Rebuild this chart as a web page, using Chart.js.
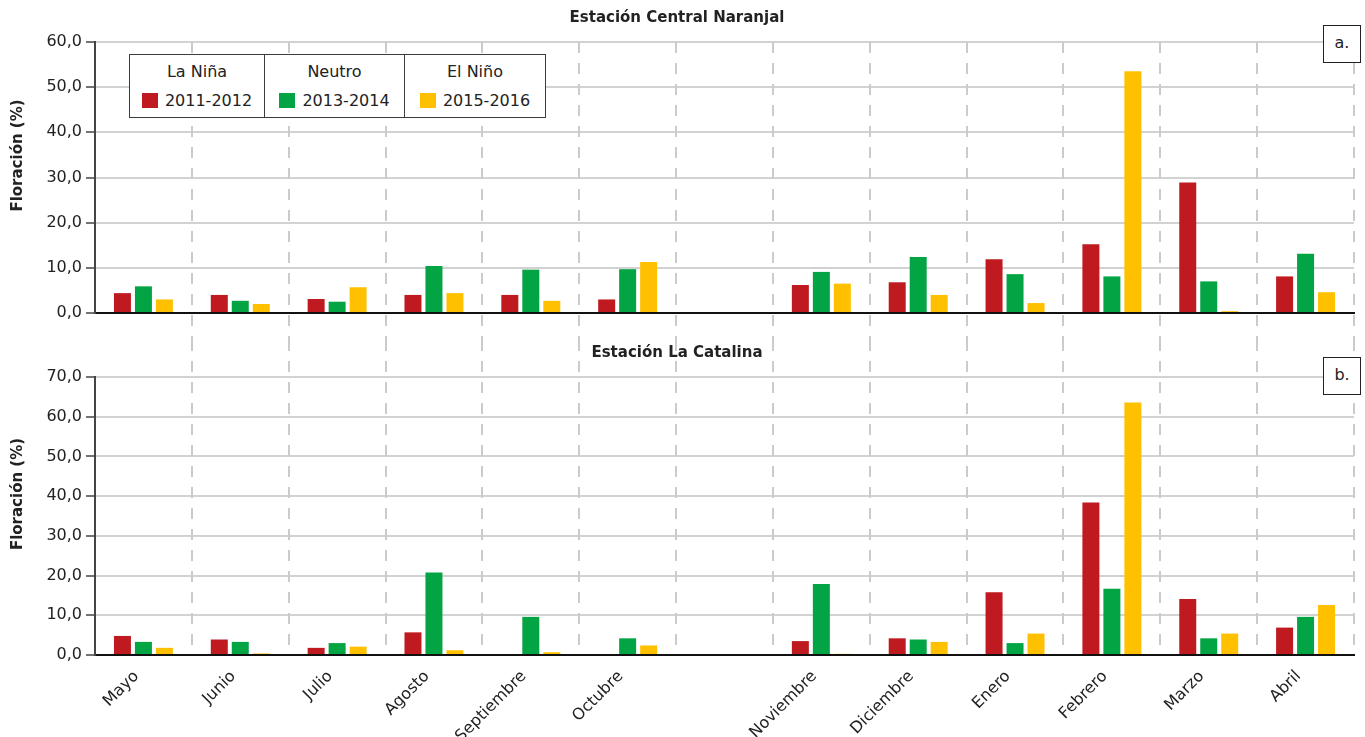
<!DOCTYPE html>
<html>
<head>
<meta charset="utf-8">
<script src="https://cdn.jsdelivr.net/npm/chart.js@4.4.1/dist/chart.umd.min.js"></script>
<style>
  body { margin: 0; background: #fff; }
  #wrap { position: relative; width: 1365px; height: 737px; font-family: "DejaVu Sans", sans-serif; color: #222; }
  #wrap canvas { position: absolute; left: 0; }
  #chartA { top: 0; }
  #chartB { top: 340px; }
  .legend { position: absolute; left: 129px; top: 54px; border-collapse: collapse; background: #fff; font-size: 16px; line-height: 19px; }
  .legend td { border: 1.5px solid #3c3c3c; text-align: center; padding: 0; vertical-align: middle; }
  .legend .phase { height: 31px; border-bottom: none; padding-top: 1px; }
  .legend .season { height: 27px; border-top: none; padding-bottom: 3px; }
  .legend .sw { display: inline-block; width: 16px; height: 15px; margin-right: 7px; vertical-align: -2px; }
  .tag { position: absolute; left: 1323px; width: 36px; height: 36px; border: 1.5px solid #222; background: #fff;
         font-size: 16px; line-height: 34px; text-align: center; }
</style>
</head>
<body>
<div id="wrap">
  <canvas id="chartA" width="1365" height="340"></canvas>
  <canvas id="chartB" width="1365" height="397"></canvas>
  <table class="legend" id="legend"></table>
  <div class="tag" style="top:25px">a.</div>
  <div class="tag" style="top:357px">b.</div>
</div>
<script>
const months = ['Mayo', 'Junio', 'Julio', 'Agosto', 'Septiembre', 'Octubre', '',
  'Noviembre', 'Diciembre', 'Enero', 'Febrero', 'Marzo', 'Abril'];
const seasons = ['2011-2012', '2013-2014', '2015-2016'];
const phases = ['La Niña', 'Neutro', 'El Niño'];
const colors = ['#BE1A1F', '#03A443', '#FFC000'];

// Estación Central Naranjal, floración (%)
const naranjal2011 = [4.4, 4.0, 3.1, 4.0, 4.0, 3.0, null, 6.2, 6.8, 11.9, 15.2, 28.9, 8.1];
const naranjal2013 = [5.9, 2.7, 2.5, 10.4, 9.6, 9.7, null, 9.1, 12.4, 8.6, 8.1, 7.0, 13.1];
const naranjal2015 = [3.0, 2.0, 5.7, 4.4, 2.7, 11.3, null, 6.5, 4.0, 2.2, 53.5, 0.4, 4.6];

// Estación La Catalina, floración (%)
const catalina2011 = [4.8, 3.9, 1.8, 5.7, null, null, null, 3.5, 4.2, 15.8, 38.4, 14.1, 6.9];
const catalina2013 = [3.3, 3.3, 3.0, 20.8, 9.6, 4.2, null, 17.9, 3.9, 3.0, 16.7, 4.2, 9.6];
const catalina2015 = [1.8, 0.4, 2.1, 1.2, 0.7, 2.4, null, 0.3, 3.3, 5.4, 63.6, 5.4, 12.6];

const yMaxA = 60;
const yMaxB = 70;
const yStep = 10;
const yTitle = 'Floración (%)';

const FONT = '"DejaVu Sans", sans-serif';

// legend table: phase on top, swatch + season below
const legend = document.getElementById('legend');
const widths = [134, 139, 140];
legend.innerHTML =
  '<tr>' + phases.map((p, i) => `<td class="phase" style="width:${widths[i]}px">${p}</td>`).join('') + '</tr>' +
  '<tr>' + seasons.map((s, i) => `<td class="season"><span class="sw" style="background:${colors[i]}"></span>${s}</td>`).join('') + '</tr>';

function fmt(v) {
  return v.toFixed(1).replace('.', ',');
}

// dashed separators between months, allowed to run outside the plot area
function separators(y0, y1) {
  return {
    id: 'separators',
    beforeDatasetsDraw(chart) {
      const { ctx, scales: { x }, chartArea } = chart;
      const top = y0 === null ? chartArea.top : y0;
      const bottom = y1 === null ? chartArea.bottom : y1;
      ctx.save();
      ctx.strokeStyle = '#cbcbcb';
      ctx.lineWidth = 2;
      ctx.setLineDash([11, 10]);
      for (let i = 1; i <= months.length; i++) {
        const px = Math.round(x.getPixelForValue(i - 0.5));
        ctx.beginPath();
        ctx.moveTo(px, top);
        ctx.lineTo(px, bottom);
        ctx.stroke();
      }
      ctx.restore();
    }
  };
}

// y title sits a little above the middle of the plot
const sideTitle = {
  id: 'sideTitle',
  afterDraw(chart) {
    const { ctx, chartArea } = chart;
    ctx.save();
    ctx.translate(18, (chartArea.top + chartArea.bottom) / 2 - 22);
    ctx.rotate(-Math.PI / 2);
    ctx.font = 'bold 15px ' + FONT;
    ctx.fillStyle = '#222';
    ctx.textAlign = 'center';
    ctx.textBaseline = 'middle';
    ctx.fillText(yTitle, 0, 0);
    ctx.restore();
  }
};

function makeChart(id, title, series, yMax, opts) {
  return new Chart(document.getElementById(id), {
    type: 'bar',
    data: {
      labels: months,
      datasets: series.map((d, i) => ({
        label: seasons[i],
        data: d,
        backgroundColor: colors[i],
        categoryPercentage: 0.65,
        barPercentage: 0.81
      }))
    },
    plugins: [opts.plugin, sideTitle],
    options: {
      responsive: false,
      animation: false,
      devicePixelRatio: 1,
      layout: { padding: { left: 0, right: 11, top: 0, bottom: 0 } },
      plugins: {
        legend: { display: false },
        tooltip: { enabled: false },
        title: {
          display: true,
          text: title,
          color: '#222',
          font: { family: FONT, size: 15, weight: 'bold' },
          padding: opts.titlePadding
        }
      },
      scales: {
        x: {
          grid: { display: false },
          border: { display: true, color: '#111', width: 2 },
          ticks: {
            display: opts.xLabels,
            color: '#222',
            font: { family: FONT, size: 16 },
            minRotation: 45,
            maxRotation: 45,
            autoSkip: false,
            padding: 4,
            labelOffset: -7
          },
          afterFit(scale) { scale.height = opts.xHeight; }
        },
        y: {
          min: 0,
          max: yMax,
          ticks: {
            stepSize: yStep,
            color: '#222',
            font: { family: FONT, size: 16 },
            padding: 4,
            callback: v => fmt(v)
          },
          grid: { color: '#d2d2d2', lineWidth: 2, tickColor: '#444', tickLength: 9, tickWidth: 1.5 },
          border: { color: '#444', width: 2 },
          afterFit(scale) { scale.width = 95; }
        }
      }
    }
  });
}

makeChart('chartA', 'Estación Central Naranjal',
  [naranjal2011, naranjal2013, naranjal2015], yMaxA,
  { plugin: separators(null, 340), titlePadding: { top: 9, bottom: 15 }, xLabels: false, xHeight: 27 });

makeChart('chartB', 'Estación La Catalina',
  [catalina2011, catalina2013, catalina2015], yMaxB,
  { plugin: separators(0, null), titlePadding: { top: 4, bottom: 15 }, xLabels: true, xHeight: 82 });
</script>
</body>
</html>
